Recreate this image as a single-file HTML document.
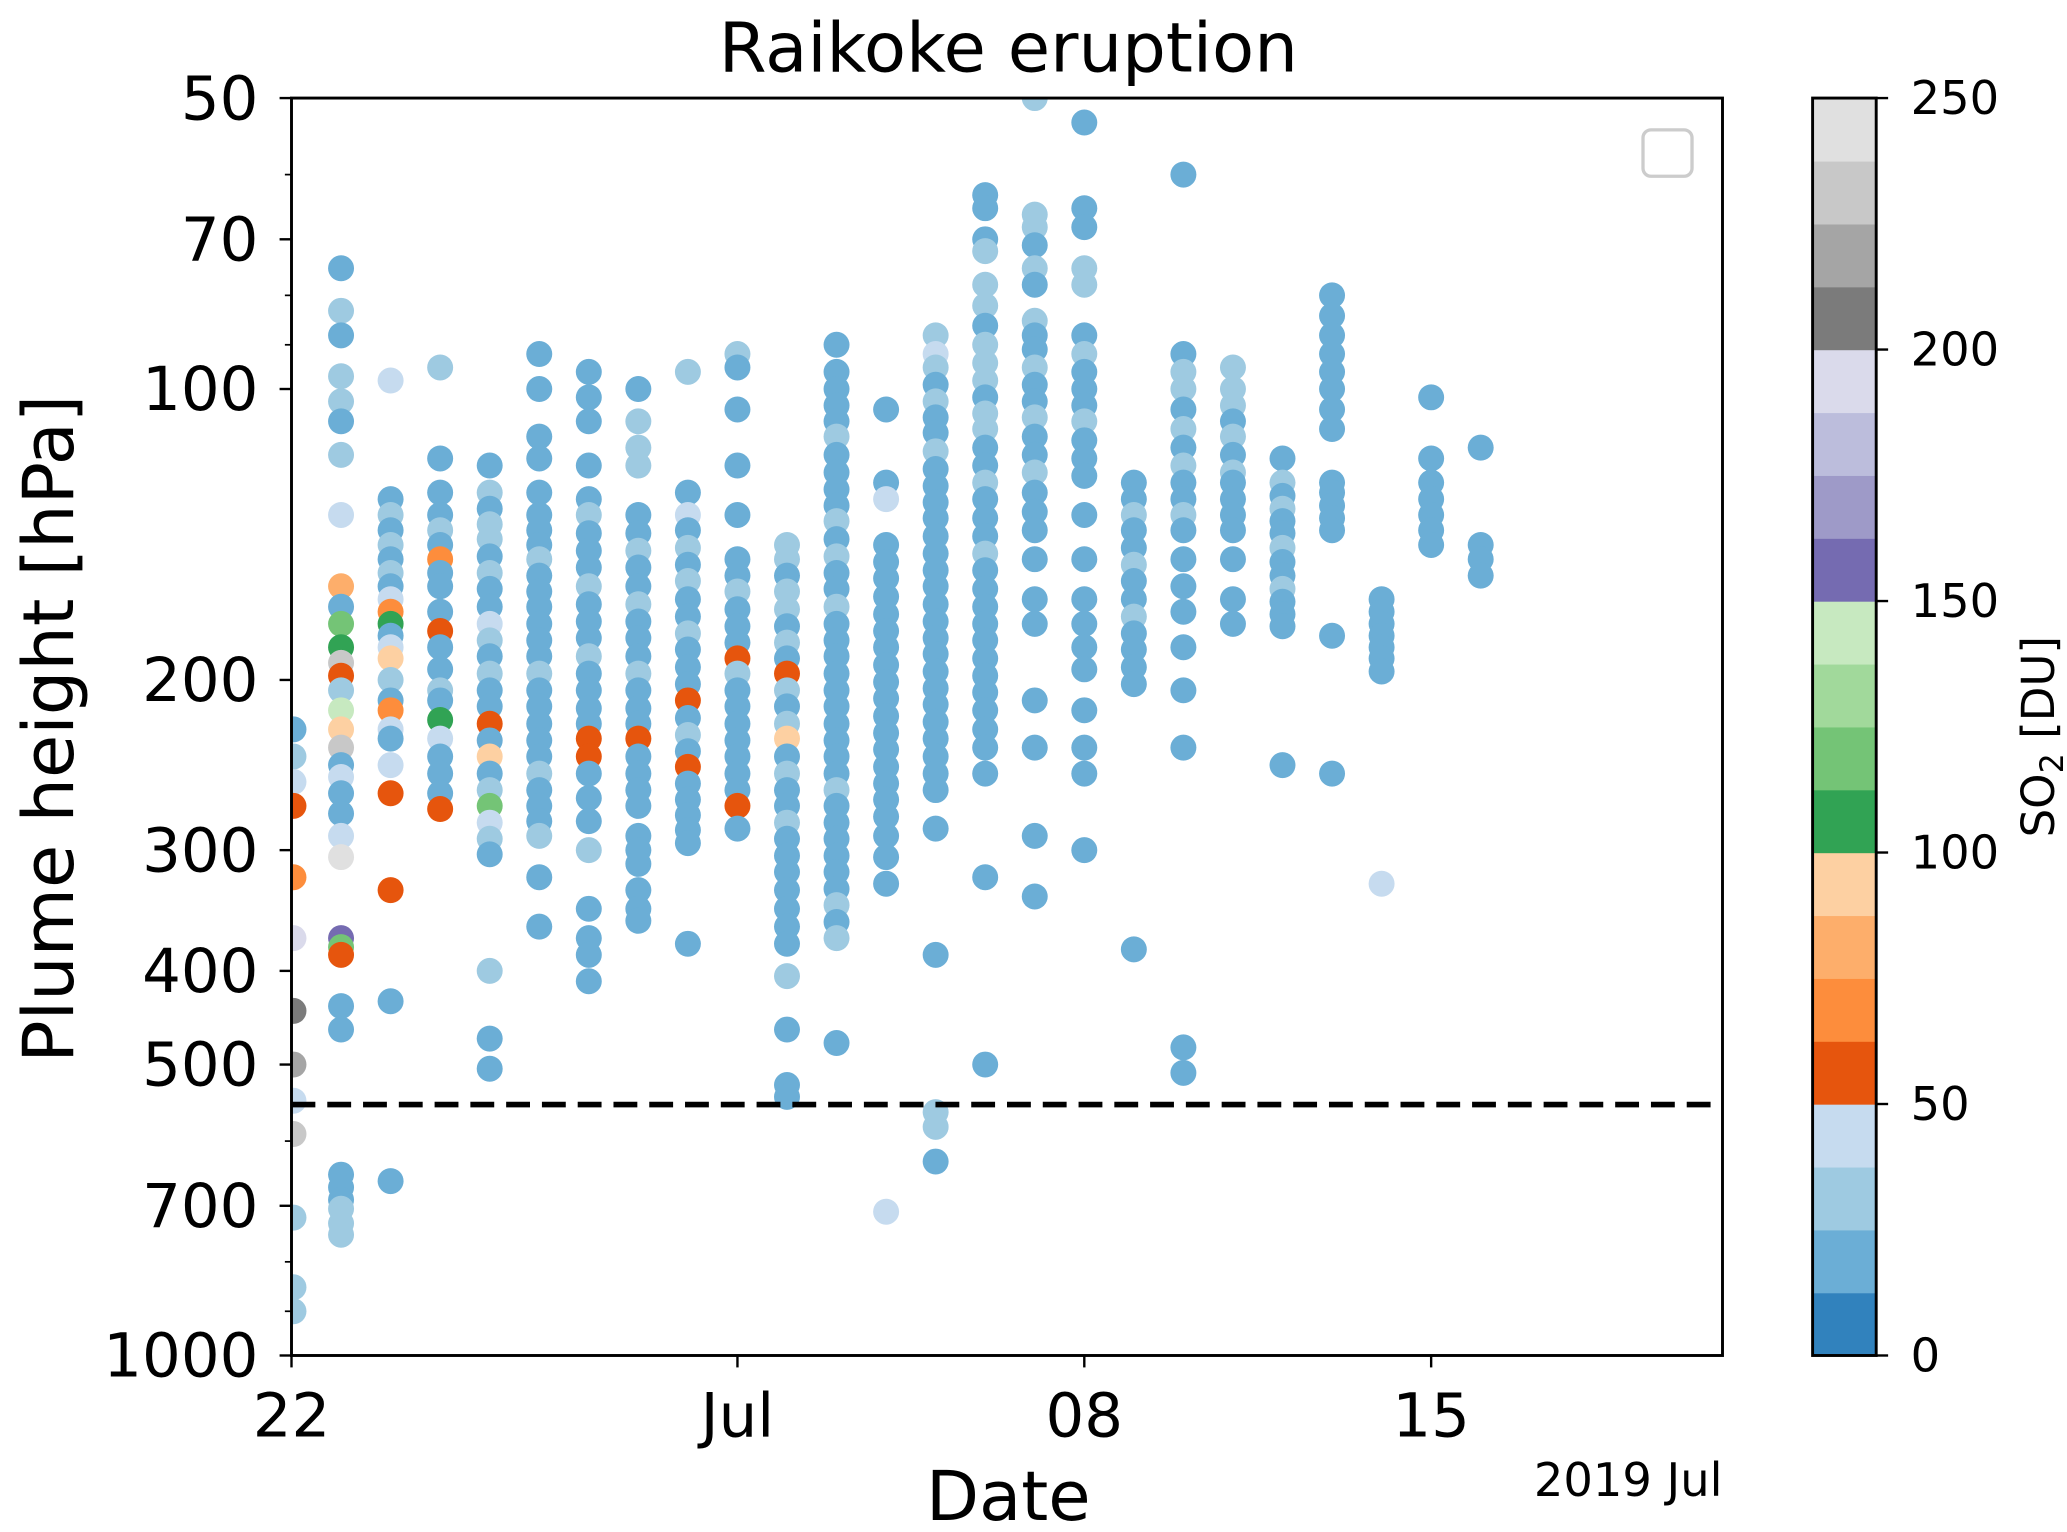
<!DOCTYPE html>
<html><head><meta charset="utf-8"><title>Raikoke eruption</title>
<style>html,body{margin:0;padding:0;background:#fff}svg{display:block}text{font-family:"DejaVu Sans","Liberation Sans",sans-serif;fill:#000}</style>
</head><body>
<svg id="chart" xmlns="http://www.w3.org/2000/svg" width="2067" height="1532" viewBox="0 0 1560 1156.2">
<defs><clipPath id="plotclip"><rect x="220" y="74" width="1080" height="949"/></clipPath></defs>
<rect x="0" y="0" width="1560" height="1156.2" fill="#fff"/>
<text x="761" y="54" font-size="52" text-anchor="middle">Raikoke eruption</text>
<g id="points" clip-path="url(#plotclip)"></g>
<g id="axes"></g>
<g id="cbar"></g>
<rect x="1240" y="98" width="37" height="35" rx="6" fill="none" stroke="#cccccc" stroke-width="2.5"/>
<text transform="translate(55,550) rotate(-90)" font-size="53" text-anchor="middle">Plume height [hPa]</text>
<text x="761" y="1147" font-size="52" text-anchor="middle">Date</text>
<text x="1300" y="1129" font-size="35" text-anchor="end">2019 Jul</text>
<text transform="translate(1550,556) rotate(-90)" font-size="34" text-anchor="middle">SO<tspan font-size="24" dy="7">2</tspan><tspan dy="-7"> [DU]</tspan></text>
</svg>
<script>
const days = [0.04,1,2,3,4,5,6,7,8,9,10,11,12,13,14,15,16,17,18,19,20,21,22,23,24];
const pres = [
[225,240,255,270,320,370,440,500,545,590,720,850,900],
[75,83,88,97,103,108,117,135,160,168,175,185,192,198,205,215,225,235,245,252,262,275,290,305,370,378,385,435,460,650,670,690,705,730,750],
[98,130,135,140,145,150,155,160,165,170,175,180,185,190,200,210,215,225,230,245,262,330,430,660],
[95,118,128,135,140,145,150,155,160,170,178,185,195,205,210,220,230,240,250,262,272],
[120,128,133,138,143,149,155,161,168,175,182,189,197,205,213,222,231,240,250,260,270,281,292,303,400,470,505],
[92,100,112,118,128,135,140,145,150,156,162,168,175,182,189,197,205,213,222,231,240,250,260,270,280,290,320,360],
[96,102,108,120,130,135,141,147,153,160,167,174,181,189,197,205,214,222,230,240,250,265,280,300,345,370,385,410],
[100,108,115,120,135,141,147,153,160,167,174,181,189,197,205,214,222,230,240,250,260,270,290,300,310,330,345,355],
[96,128,135,140,146,152,158,165,172,179,186,194,202,210,219,228,237,246,256,266,276,286,295,375],
[92,95,105,120,135,150,156,162,169,176,183,190,197,205,213,222,231,240,250,260,270,285],
[145,150,156,162,169,176,183,190,197,205,213,222,230,240,250,260,270,281,292,304,316,330,345,360,375,405,460,525,540],
[90,96,100,104,108,112,117,122,127,132,137,143,149,155,161,168,175,182,189,197,205,213,222,231,240,250,260,270,281,292,304,316,329,342,356,370,475],
[105,125,130,145,151,157,164,171,178,185,193,201,209,218,227,236,246,256,266,277,290,305,325,710],
[88,92,95,99,103,107,111,116,121,126,131,136,142,148,154,160,167,174,181,188,196,204,212,221,230,240,250,260,285,385,560,580,630],
[63,65,70,72,78,82,86,90,94,98,102,106,110,115,120,125,130,136,142,148,154,161,168,175,182,190,198,206,215,225,235,250,320,500],
[50,66,68,71,75,78,85,88,91,95,99,103,107,112,117,122,128,134,140,150,165,175,210,235,290,335],
[53,65,68,75,78,88,92,96,100,104,108,113,118,123,135,150,165,175,185,195,215,235,250,300],
[125,130,135,140,146,152,158,165,172,179,186,194,202,380],
[60,92,96,100,105,110,115,120,125,130,135,140,150,160,170,185,205,235,480,510],
[95,100,104,108,112,117,122,125,130,135,140,150,165,175],
[118,125,129,133,137,141,146,151,156,161,166,171,176,245],
[80,84,88,92,96,100,105,110,125,128,132,136,140,180,250],
[165,170,175,180,185,190,196,325],
[102,118,125,130,135,140,145],
[115,145,150,156]
];
const so2 = [
[20,30,45,55,70,195,205,220,45,235,30,30,30],
[20,30,20,30,30,20,30,45,80,20,120,105,230,55,30,145,95,235,20,45,20,20,45,240,155,115,55,20,20,20,20,20,30,30,30],
[45,20,30,20,30,20,30,20,45,70,105,20,45,95,30,20,70,45,20,45,55,55,20,20],
[30,20,20,20,30,20,70,20,20,20,55,20,20,30,20,105,45,20,20,20,55],
[20,30,20,30,30,20,30,20,20,45,30,20,30,20,20,55,20,90,20,30,115,45,30,20,30,20,20],
[20,20,20,20,20,20,20,20,30,20,20,20,20,20,20,30,20,20,20,20,20,30,20,20,20,30,20,20],
[20,20,20,20,20,30,20,20,20,30,20,20,20,30,20,20,20,20,55,55,20,20,20,30,20,20,20,20],
[20,30,30,30,20,20,30,20,20,30,20,20,20,30,20,20,20,55,20,20,20,20,20,20,20,20,20,20],
[30,20,45,20,30,20,30,20,20,30,20,20,20,55,20,30,20,55,20,20,20,20,20,20],
[30,20,20,20,20,20,20,30,20,20,20,55,30,20,20,20,20,20,20,20,55,20],
[30,30,20,30,30,20,30,20,55,30,20,30,90,20,30,20,20,30,20,20,20,20,20,20,20,30,20,20,20],
[20,20,20,20,20,30,20,20,20,20,30,20,30,20,20,30,20,20,20,20,20,20,20,20,20,20,30,20,20,20,20,20,20,30,20,30,20],
[20,20,45,20,20,20,20,20,20,20,20,20,20,20,20,20,20,20,20,20,20,20,20,45],
[30,45,30,20,30,20,20,30,20,20,20,20,20,20,20,20,20,20,20,20,20,20,20,20,20,20,20,20,20,20,30,30,20],
[20,20,20,30,30,30,20,30,30,30,20,30,30,20,20,30,20,20,20,30,20,20,20,20,20,20,20,20,20,20,20,20,20,20],
[30,30,30,20,30,20,30,20,20,30,20,20,30,20,20,30,20,20,20,20,20,20,20,20,20,20],
[20,20,20,30,30,20,30,20,20,20,30,20,20,20,20,20,20,20,20,20,20,20,20,20],
[20,20,30,20,20,30,20,20,30,20,20,20,20,20],
[20,20,30,30,20,30,20,30,20,20,30,20,20,20,20,20,20,20,20,20],
[30,30,30,20,30,20,30,20,20,20,20,20,20,20],
[20,30,20,30,20,20,30,20,20,30,20,20,20,20],
[20,20,20,20,20,20,20,20,20,20,20,20,20,20,20],
[20,20,20,20,20,20,20,45],
[20,20,20,20,20,20,20],
[20,20,20,20]
];
const yTicks = [50,70,100,200,300,400,500,700,1000];
const yMinor = [60,80,90,600,800,900];
const xTickDays = [0,9,16,23];
const xTickLabels = ['22','Jul','08','15'];
const cbTicks = [0,50,100,150,200,250];
const thresholdHPa = 550;

const NS='http://www.w3.org/2000/svg';
const X0=220,X1=1300,Y0=74,Y1=1023,XMAX=28.88,PMIN=50,PMAX=1000;
const palette=['#3182bd','#6baed6','#9ecae1','#c6dbef','#e6550d','#fd8d3c','#fdae6b','#fdd0a2','#31a354','#74c476','#a1d99b','#c7e9c0','#756bb1','#9e9ac8','#bcbddc','#dadaeb','#7b7b7b','#a5a5a5','#c8c8c8','#e0e0e0'];
function xs(d){return X0+d/XMAX*(X1-X0);}
function ys(p){return Y0+Math.log(p/PMIN)/Math.log(PMAX/PMIN)*(Y1-Y0);}
function col(v){let i=Math.floor(v/12.5);i=Math.max(0,Math.min(19,i));return palette[i];}
function mk(tag,attrs,parent){const e=document.createElementNS(NS,tag);for(const k in attrs)e.setAttribute(k,attrs[k]);parent.appendChild(e);return e;}

const gp=document.getElementById('points');
days.forEach((d,ci)=>{
  pres[ci].forEach((p,j)=>{
    const c=mk('circle',{cx:xs(d),cy:ys(p),r:9.8,fill:col(so2[ci][j])},gp);
    
    
  });
});
const ga=document.getElementById('axes');
const dl=mk('line',{x1:X0,x2:X1,y1:ys(thresholdHPa),y2:ys(thresholdHPa),stroke:'#000','stroke-width':4.2,'stroke-dasharray':'18,9'},ga);


const fr=mk('rect',{x:X0,y:Y0,width:X1-X0,height:Y1-Y0,fill:'none',stroke:'#000','stroke-width':2.2},ga);


yTicks.forEach(t=>{
  const y=ys(t);
  const l=mk('line',{x1:X0-9,x2:X0,y1:y,y2:y,stroke:'#000','stroke-width':1.8},ga);
  
  
  const tx=mk('text',{x:X0-25,y:y+16,'font-size':46,'text-anchor':'end'},ga);
  tx.textContent=t;
  
  
});
yMinor.forEach(t=>{
  const y=ys(t);
  const l=mk('line',{x1:X0-5,x2:X0,y1:y,y2:y,stroke:'#000','stroke-width':1.3},ga);
  
  
});
xTickDays.forEach((d,i)=>{
  const x=xs(d);
  const l=mk('line',{x1:x,x2:x,y1:Y1,y2:Y1+9,stroke:'#000','stroke-width':1.8},ga);
  
  
  const tx=mk('text',{x:x,y:Y1+61,'font-size':46,'text-anchor':'middle'},ga);
  tx.textContent=xTickLabels[i];
  
  
});
const gc=document.getElementById('cbar');
const CX0=1368,CX1=1416,CMAX=250;
function cy(v){return Y1-v/CMAX*(Y1-Y0);}
palette.forEach((c,i)=>{
  const r=mk('rect',{x:CX0,y:cy((i+1)*12.5),width:CX1-CX0,height:cy(i*12.5)-cy((i+1)*12.5)+0.5,fill:c},gc);
  
  
});
const cf=mk('rect',{x:CX0,y:Y0,width:CX1-CX0,height:Y1-Y0,fill:'none',stroke:'#000','stroke-width':2.2},gc);


cbTicks.forEach(t=>{
  const y=cy(t);
  const l=mk('line',{x1:CX1,x2:CX1+9,y1:y,y2:y,stroke:'#000','stroke-width':1.8},gc);
  
  
  const tx=mk('text',{x:CX1+26,y:y+12,'font-size':35,'text-anchor':'start'},gc);
  tx.textContent=t;
  
  
});
</script>
</body></html>
